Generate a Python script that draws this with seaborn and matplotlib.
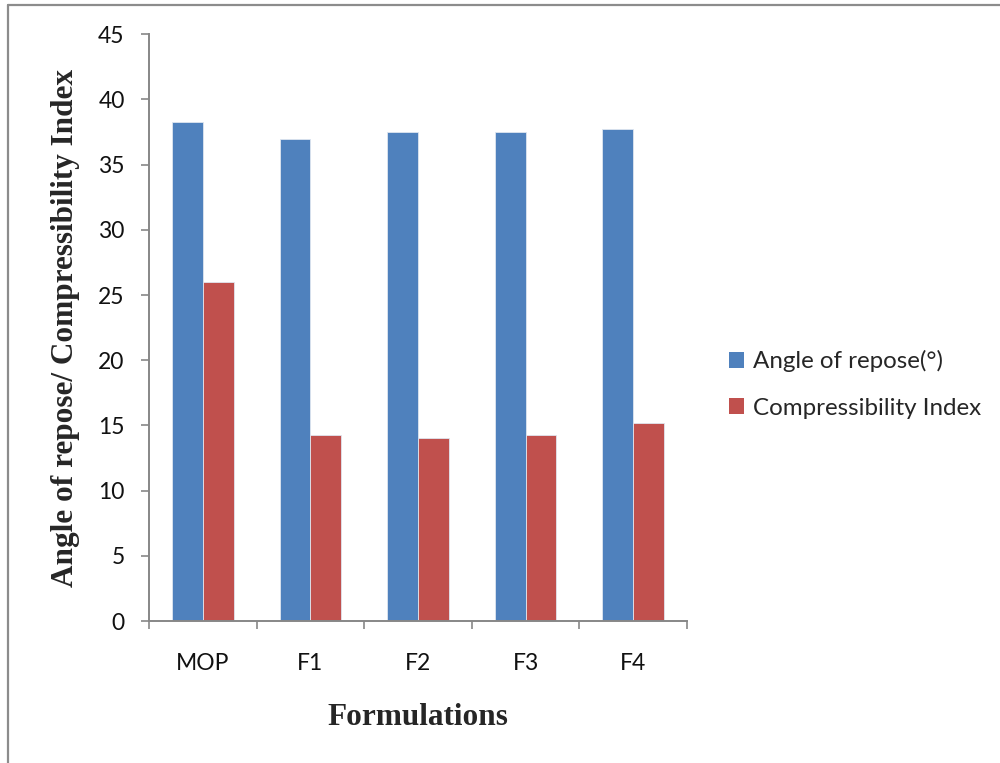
import matplotlib
matplotlib.use("Agg")
import matplotlib.pyplot as plt
import seaborn as sns
import pandas as pd
import numpy as np
from matplotlib.lines import Line2D
from matplotlib.patches import Patch

categories = ["MOP", "F1", "F2", "F3", "F4"]
angle_of_repose = [38.3, 37.0, 37.5, 37.5, 37.7]
compressibility_index = [26.0, 14.3, 14.05, 14.3, 15.2]
series_names = ["Angle of repose(°)", "Compressibility Index"]
y_ticks = [0, 5, 10, 15, 20, 25, 30, 35, 40, 45]
colors = ["#4F81BD", "#C0504D"]

df = pd.DataFrame({
    "Formulation": categories * 2,
    "Series": [series_names[0]] * len(categories) + [series_names[1]] * len(categories),
    "Value": angle_of_repose + compressibility_index,
})

sns.set_style("white")
plt.rcParams["font.family"] = ["Lato", "DejaVu Sans"]

fig = plt.figure(figsize=(10, 7.63), dpi=100)
ax = fig.add_axes([0.149, 0.1861, 0.538, 0.769])

sns.barplot(data=df, x="Formulation", y="Value", hue="Series", order=categories,
            hue_order=series_names, palette=colors, saturation=1, width=0.571, gap=0,
            edgecolor="#dfe6f0", linewidth=0.6, ax=ax, legend=False)

ax.set_xlim(-0.5, len(categories) - 0.5)
ax.set_ylim(0, 45)
ax.set_yticks(y_ticks)
ax.set_yticklabels([str(t) for t in y_ticks], fontsize=16.5, color="#111111")
ax.set_xticks(range(len(categories)))
ax.set_xticklabels(categories, fontsize=16.5, color="#111111")
ax.set_xticks(np.arange(-0.5, len(categories), 1.0), minor=True)

gray = "#878787"
for side in ["top", "right"]:
    ax.spines[side].set_visible(False)
for side in ["left", "bottom"]:
    ax.spines[side].set_color(gray)
    ax.spines[side].set_linewidth(1.4)

ax.tick_params(axis="y", which="major", direction="out", length=5.5, width=1.2,
               color=gray, pad=12, left=True)
ax.tick_params(axis="x", which="major", length=0, pad=23)
ax.tick_params(axis="x", which="minor", direction="out", length=5.5, width=1.2,
               color=gray, bottom=True)

ax.set_xlabel("Formulations", fontsize=22.5, fontweight="bold",
              family="Liberation Serif", labelpad=21)
ax.set_ylabel("Angle of repose/ Compressibility Index", fontsize=22.5,
              fontweight="bold", family="Liberation Serif", labelpad=13)
ax.grid(False)

handles = [Patch(facecolor=colors[0], edgecolor="none"),
           Patch(facecolor=colors[1], edgecolor="none")]
fig.legend(handles, series_names, loc="center left", bbox_to_anchor=(0.729, 0.496),
           frameon=False, fontsize=17.4, handlelength=0.62, handleheight=0.62,
           handletextpad=0.38, labelspacing=1.05, borderpad=0, borderaxespad=0)

# outer frame (left and top lines)
fig.add_artist(Line2D([0.008, 0.008], [0, 1 - 5 / 763], transform=fig.transFigure,
                      color="#8c8c8c", linewidth=1.6))
fig.add_artist(Line2D([0.008, 1.0], [1 - 5 / 763, 1 - 5 / 763], transform=fig.transFigure,
                      color="#8c8c8c", linewidth=1.6))

fig.savefig("out.png", dpi=100)
